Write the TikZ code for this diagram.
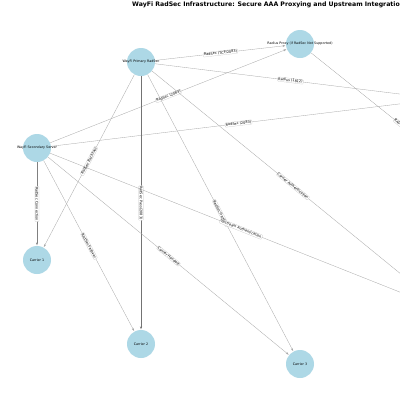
\documentclass[tikz,border=0pt]{standalone}
\usepackage{fontspec}
\setmainfont{DejaVu Sans}
\usetikzlibrary{arrows.meta}
\definecolor{nodeblue}{HTML}{ADD8E6}
\tikzset{
  gnode/.style={circle,fill=nodeblue,draw=none,minimum size=28pt,inner sep=0pt},
  nlabel/.style={font=\fontsize{3.3}{4}\selectfont,inner sep=0pt},
  gedge/.style={draw=gray!70,line width=0.3pt,-{Stealth[length=3pt,width=2pt]},shorten >=0.5pt},
  gedgemid/.style={draw=gray,line width=0.45pt,-{Stealth[length=3pt,width=2pt]},shorten >=0.5pt},
  gedgedark/.style={draw=gray!90!black,line width=0.6pt,-{Stealth[length=3pt,width=2pt]},shorten >=0.5pt},
  elabel/.style={sloped,fill=white,draw=gray!45,line width=0.2pt,rounded corners=0.6pt,inner sep=0.6pt,font=\fontsize{3.5}{4}\selectfont},
}
\begin{document}
\begin{tikzpicture}[x=1pt,y=-1pt]
\useasboundingbox (0,0) rectangle (400,400);
\clip (0,0) rectangle (400,400);
\fill[white] (0,0) rectangle (400,400);
\node[anchor=west,font=\fontsize{6.2}{7}\selectfont\bfseries,inner sep=0pt] (title) at (132,5) {WayFi RadSec Infrastructure: Secure AAA Proxying and Upstream Integration};
% nodes
\node[gnode] (A) at (141,62) {};
\node[gnode] (B) at (300,44) {};
\node[gnode] (C) at (37,148) {};
\node[gnode] (D) at (37,260) {};
\node[gnode] (E) at (141,344) {};
\node[gnode] (F) at (300,364) {};
\node[gnode] (G) at (440,99) {};
\node[gnode] (H) at (510,212) {};
\node[gnode] (X) at (445,310) {};
% edges
\draw[gedge] (A) -- node[elabel] {RadSec (TCP/2083)} (B);
\draw[gedge] (A) -- node[elabel] {Radius (1812)} (G);
\draw[gedge] (C) -- node[elabel] {RadSec (2083)} (B);
\draw[gedge] (C) -- node[elabel] {RadSec (2083)} (G);
\draw[gedge] (B) -- node[elabel] {RADIUS (1812)} (H);
\draw[gedge] (A) -- node[elabel] {RadSec Backhaul} (D);
\draw[gedgemid] (C) -- node[elabel] {RadSec Connection} (D);
\draw[gedgedark] (A) -- node[elabel] {RadSec Pass(2083)} (E);
\draw[gedge] (C) -- node[elabel] {RadSec Failover} (E);
\draw[gedge] (C) -- node[elabel] {Carrier Handoff} (F);
\draw[gedge] (A) -- node[elabel] {RadSec Handoff} (F);
\draw[gedge] (A) -- node[elabel] {Carrier Authentication} (X);
\draw[gedge] (C) -- node[elabel] {Upstream Authentication} (X);
% node labels
\node[nlabel] (Alab) at (A.center) {WayFi Primary RadSec};
\node[nlabel] (Blab) at (B.center) {Radius Proxy (if RadSec Not Supported)};
\node[nlabel] (Clab) at (C.center) {WayFi Secondary Server};
\node[nlabel] (Dlab) at (D.center) {Carrier 1};
\node[nlabel] (Elab) at (E.center) {Carrier 2};
\node[nlabel] (Flab) at (F.center) {Carrier 3};
\end{tikzpicture}
\end{document}
